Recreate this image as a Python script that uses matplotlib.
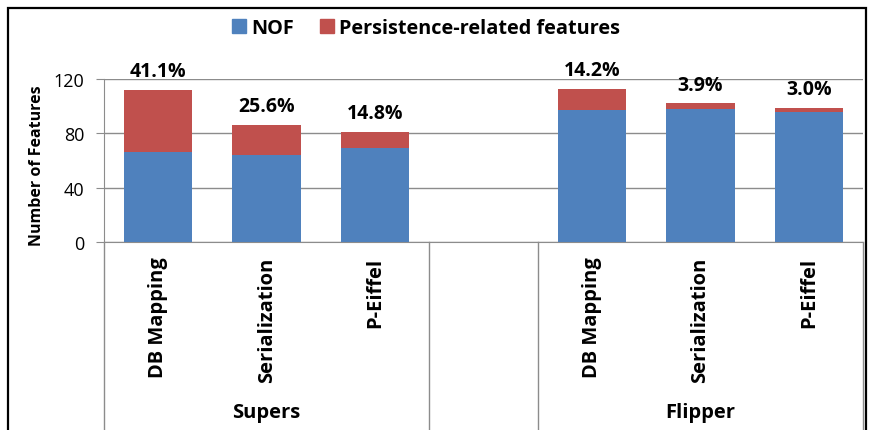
"""Stacked bar chart: NOF vs persistence-related features per product line."""

import matplotlib
matplotlib.use("Agg")
import matplotlib.pyplot as plt
from matplotlib.patches import Patch, Rectangle

plt.rcParams["font.family"] = ["Open Sans", "DejaVu Sans"]

groups = ["Supers", "Flipper"]
categories = ["DB Mapping", "Serialization", "P-Eiffel"]
nof_supers = [66, 64, 69]
pers_supers = [46, 22, 12]
nof_flipper = [97, 98, 96]
pers_flipper = [16, 4, 3]
pct_supers = ["41.1%", "25.6%", "14.8%"]
pct_flipper = ["14.2%", "3.9%", "3.0%"]
y_ticks = [0, 40, 80, 120]

BLUE = "#4F81BD"
RED = "#C0504D"
GRID = "#8C8C8C"

fig = plt.figure(figsize=(8.7, 4.31), dpi=100)
ax = fig.add_axes([104 / 870, 1 - 243 / 431, 759 / 870, 163 / 431])

# outer frame around the whole chart
fig.patches.append(Rectangle((8 / 870, -0.02), 858 / 870, 1 - 9 / 431 + 0.02,
                             transform=fig.transFigure, fill=False,
                             edgecolor="black", linewidth=1.6))

# slot positions: Supers in 0..2, empty slot 3, Flipper in 4..6
pos_supers = [0, 1, 2]
pos_flipper = [4, 5, 6]

for pos, nof, pers, pct in [(pos_supers, nof_supers, pers_supers, pct_supers),
                            (pos_flipper, nof_flipper, pers_flipper, pct_flipper)]:
    ax.bar(pos, nof, width=0.63, color=BLUE, zorder=3)
    ax.bar(pos, pers, width=0.63, bottom=nof, color=RED, zorder=3)
    for x, n, p, lab in zip(pos, nof, pers, pct):
        ax.annotate(lab, (x, n + p), xytext=(0, 10), textcoords="offset points",
                    ha="center", va="baseline", fontsize=14, fontweight="bold")

ax.set_xlim(-0.5, 6.5)
ax.set_ylim(0, 120)
ax.set_yticks(y_ticks)
ax.tick_params(axis="y", labelsize=13, length=6, color=GRID, pad=8)
ax.yaxis.grid(True, color=GRID, linewidth=1)
ax.set_axisbelow(True)
ax.set_xticks([])
for s in ["top", "right"]:
    ax.spines[s].set_visible(False)
ax.spines["left"].set_color(GRID)
ax.spines["bottom"].set_color(GRID)

# category and group labels below the axis
trans = ax.get_xaxis_transform()
for pos in [pos_supers, pos_flipper]:
    for x, cat in zip(pos, categories):
        ax.text(x, -0.09, cat, transform=trans, rotation=90, ha="center", va="top",
                fontsize=14.5, fontweight="bold")
for x, g in zip([1, 5], groups):
    ax.text(x, -1.043, g, transform=trans, ha="center", va="center",
            fontsize=14.5, fontweight="bold")

# vertical separators of the category table
for xb in [-0.5, 2.5, 3.5, 6.5]:
    ax.plot([xb, xb], [0, -1.3], transform=trans, color=GRID, linewidth=1,
            clip_on=False)

fig.text(37 / 870, 1 - 166 / 431, "Number of Features", rotation=90,
         ha="center", va="center", fontsize=11.5, fontweight="bold")

handles = [Patch(color=BLUE, label="NOF"),
           Patch(color=RED, label="Persistence-related features")]
fig.legend(handles=handles, loc="center", bbox_to_anchor=(426 / 870, 1 - 29 / 431),
           ncol=2, frameon=False, handlelength=0.7, handleheight=0.7,
           handletextpad=0.25, columnspacing=1.3, prop={"size": 14.3, "weight": "bold"})

fig.savefig("out.png", dpi=100)
